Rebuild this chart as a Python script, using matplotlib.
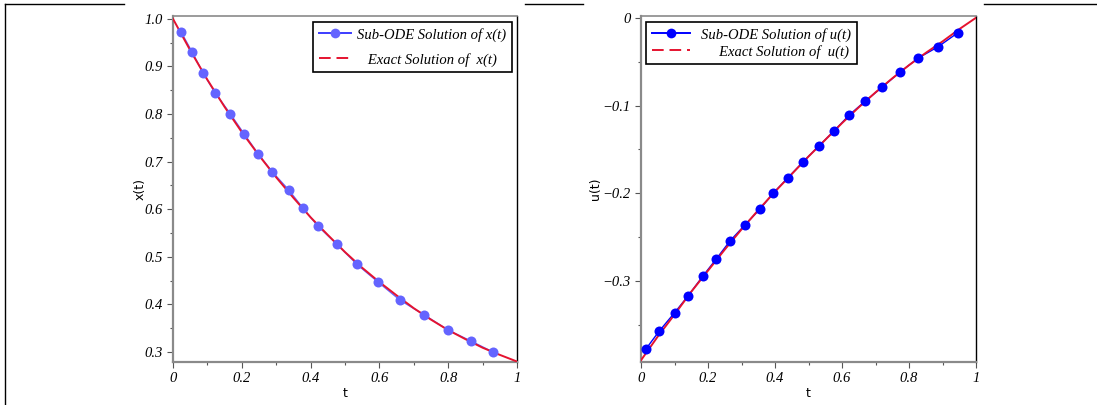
import matplotlib
matplotlib.use("Agg")
import matplotlib.pyplot as plt
from matplotlib.lines import Line2D

# exact curves
t_curve = [0.0, 0.05, 0.1, 0.15, 0.2, 0.25, 0.3, 0.35, 0.4, 0.45, 0.5,
           0.55, 0.6, 0.65, 0.7, 0.75, 0.8, 0.85, 0.9, 0.95, 1.0]
x_exact = [1.0, 0.934, 0.872, 0.815, 0.762, 0.713, 0.667, 0.624, 0.583, 0.546, 0.510,
           0.477, 0.447, 0.419, 0.392, 0.368, 0.346, 0.327, 0.309, 0.294, 0.280]
u_exact = [-0.39, -0.363, -0.338, -0.312, -0.288, -0.264, -0.241, -0.219, -0.198, -0.178, -0.158,
           -0.139, -0.12, -0.102, -0.085, -0.069, -0.054, -0.04, -0.027, -0.013, 0.0]

# sub-ODE points
t_x = [0.023, 0.055, 0.087, 0.122, 0.166, 0.206, 0.247, 0.288, 0.337, 0.378,
       0.422, 0.477, 0.535, 0.596, 0.66, 0.73, 0.80, 0.866, 0.93]
x_sub = [0.973, 0.931, 0.887, 0.845, 0.801, 0.759, 0.717, 0.679, 0.640, 0.602,
         0.564, 0.526, 0.484, 0.447, 0.409, 0.378, 0.346, 0.323, 0.300]
t_u = [0.015, 0.054, 0.1, 0.14, 0.185, 0.224, 0.266, 0.31, 0.355, 0.394, 0.439,
       0.484, 0.531, 0.576, 0.621, 0.669, 0.72, 0.773, 0.827, 0.887, 0.946]
u_sub = [-0.377, -0.357, -0.336, -0.317, -0.294, -0.275, -0.254, -0.236, -0.218, -0.2, -0.182,
         -0.164, -0.146, -0.129, -0.111, -0.095, -0.079, -0.062, -0.046, -0.033, -0.017]

x_ticks = [0, 0.2, 0.4, 0.6, 0.8, 1.0]
x_ticklabels = ["0", "0.2", "0.4", "0.6", "0.8", "1"]
xl_yticks = [0.3, 0.4, 0.5, 0.6, 0.7, 0.8, 0.9, 1.0]
xl_yticklabels = ["0.3", "0.4", "0.5", "0.6", "0.7", "0.8", "0.9", "1.0"]
ur_yticks = [-0.3, -0.2, -0.1, 0.0]
ur_yticklabels = ["\u22120.3", "\u22120.2", "\u22120.1", "0"]

W, H = 1097, 405
fig = plt.figure(figsize=(W / 100, H / 100), dpi=100)

red = "#e5132f"
serif = ["Liberation Serif", "DejaVu Serif"]


def style_axes(ax):
    for s in ["left", "bottom", "top"]:
        ax.spines[s].set_color("#8a8a8a")
    ax.spines["left"].set_linewidth(1.6)
    ax.spines["bottom"].set_linewidth(1.6)
    ax.spines["top"].set_linewidth(1.2)
    ax.spines["right"].set_color("black")
    ax.spines["right"].set_linewidth(1.0)
    ax.tick_params(which="major", direction="out", length=4, width=0.8, color="#555555")
    ax.tick_params(which="minor", direction="out", length=2.5, width=0.8, color="#555555")
    ax.set_xlim(0, 1)
    ax.set_xticks(x_ticks)
    ax.set_xticklabels(x_ticklabels, family=serif, style="italic", fontsize=10.5)
    ax.set_xticks([0.1, 0.3, 0.5, 0.7, 0.9], minor=True)
    ax.set_xlabel("t", fontsize=9, family="DejaVu Sans", labelpad=1)


def px_axes(x0, x1, y0, y1):
    return fig.add_axes([x0 / W, 1 - y1 / H, (x1 - x0) / W, (y1 - y0) / H])


# left panel
ax1 = px_axes(173, 517, 16, 362)
style_axes(ax1)
ax1.plot(t_x, x_sub, color="#6464ff", lw=1, zorder=2)
ax1.plot(t_curve, x_exact, color=red, lw=1.4, zorder=3)
ax1.plot(t_x, x_sub, "o", color="#6464ff", ms=7.2, mec="none", zorder=4)
ax1.set_ylim(0.279, 1.006)
ax1.set_yticks(xl_yticks)
ax1.set_yticklabels(xl_yticklabels, family=serif, style="italic", fontsize=10.5)
ax1.set_yticks([0.35, 0.45, 0.55, 0.65, 0.75, 0.85, 0.95], minor=True)
ax1.set_ylabel("x(t)", fontsize=9, family="DejaVu Sans", labelpad=-2)
h1 = [Line2D([], [], color="#3c3cff", lw=1.4, marker="o", ms=7, mfc="#6464ff", mec="none"),
      Line2D([], [], color=red, lw=1.4, ls=(0, (6, 3)))]
leg1 = ax1.legend(h1, ["Sub-ODE Solution of x(t)", "   Exact Solution of  x(t)"],
                  loc="upper right", bbox_to_anchor=(0.985, 0.983),
                  prop={"family": serif, "style": "italic", "size": 10.5},
                  fancybox=False, framealpha=1, edgecolor="black",
                  borderaxespad=0, labelspacing=0.75, handlelength=2.2, handletextpad=0.4)
leg1.get_frame().set_linewidth(1.2)

# right panel
ax2 = px_axes(641, 976, 16, 362)
style_axes(ax2)
ax2.plot(t_u, u_sub, color="blue", lw=1, zorder=2)
ax2.plot(t_curve, u_exact, color=red, lw=1.4, zorder=3)
ax2.plot(t_u, u_sub, "o", color="blue", ms=7.2, mec="none", zorder=4)
ax2.set_ylim(-0.392, 0.002)
ax2.set_yticks(ur_yticks)
ax2.set_yticklabels(ur_yticklabels, family=serif, style="italic", fontsize=10.5)
ax2.set_yticks([-0.35, -0.25, -0.15, -0.05], minor=True)
ax2.set_ylabel("u(t)", fontsize=9, family="DejaVu Sans", labelpad=0)
h2 = [Line2D([], [], color="blue", lw=1.4, marker="o", ms=7, mec="none"),
      Line2D([], [], color=red, lw=1.4, ls=(0, (6, 3)))]
leg2 = ax2.legend(h2, ["Sub-ODE Solution of u(t)", "     Exact Solution of  u(t)"],
                  loc="upper left", bbox_to_anchor=(0.015, 0.983),
                  prop={"family": serif, "style": "italic", "size": 10.5},
                  fancybox=False, framealpha=1, edgecolor="black",
                  borderaxespad=0, labelspacing=0.2, handlelength=2.6, handletextpad=0.8)
leg2.get_frame().set_linewidth(1.2)

# page border pieces
def fig_line(xs, ys):
    fig.add_artist(Line2D([x / W for x in xs], [1 - y / H for y in ys],
                          color="black", lw=1.0, transform=fig.transFigure))

fig_line([5, 5], [4, 405])
fig_line([5, 124], [4, 4])
fig_line([525, 583], [4, 4])
fig_line([984, 1097], [4, 4])

fig.savefig("out.png", dpi=100)
